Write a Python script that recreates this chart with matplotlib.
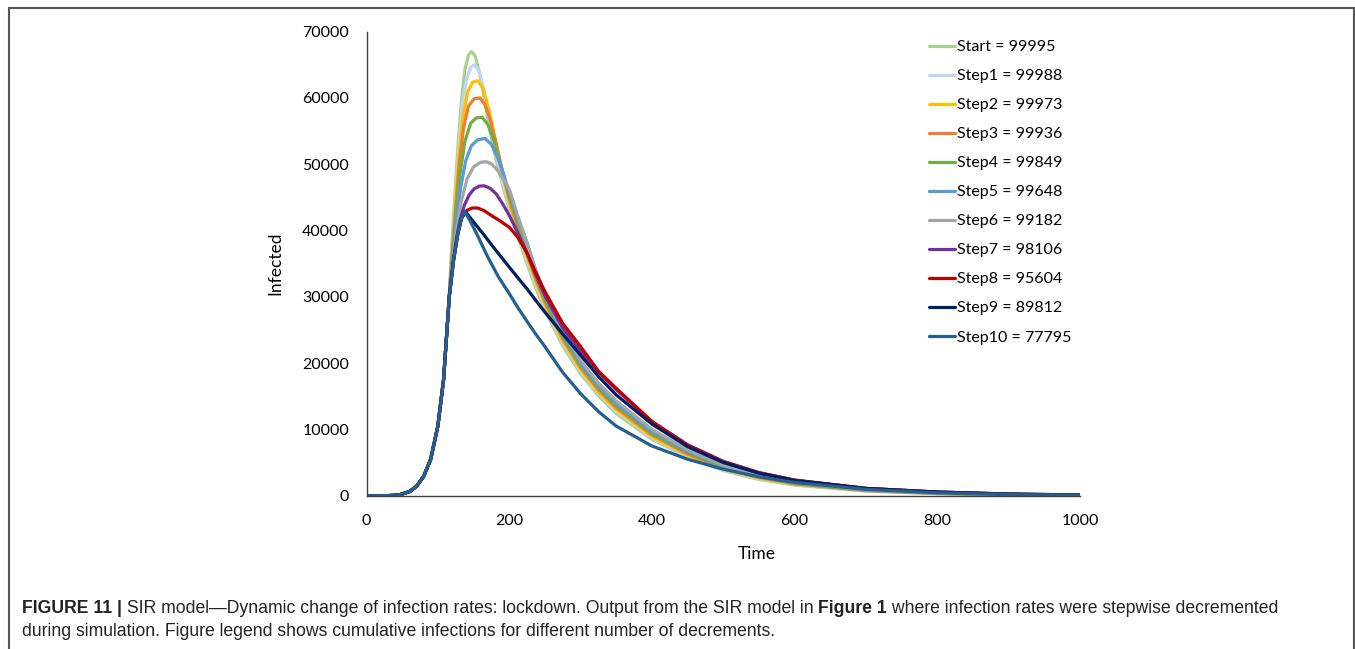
import matplotlib
matplotlib.use('Agg')
import matplotlib.pyplot as plt
from matplotlib.patches import Rectangle

# ---- data ---------------------------------------------------------------
labels = ['Start = 99995', 'Step1 = 99988', 'Step2 = 99973', 'Step3 = 99936',
          'Step4 = 99849', 'Step5 = 99648', 'Step6 = 99182', 'Step7 = 98106',
          'Step8 = 95604', 'Step9 = 89812', 'Step10 = 77795']
colors = ['#a9d18e', '#bdd7ee', '#ffc000', '#ed7d31', '#70ad47', '#5b9bd5',
          '#a5a5a5', '#7030a0', '#c00000', '#002060', '#255e91']

# shared early growth (all runs identical before the first decrement)
rise_t = [0, 30, 45, 60, 70, 80, 90, 100, 108, 116]
rise_v = [0, 10, 100, 600, 1400, 2900, 5500, 10500, 17500, 30000]

# peak section per run (116 < t < 200)
peak_t = [
    [119, 123, 128, 133, 138, 143, 147, 152, 158, 165, 173, 182, 191],
    [119, 124, 129, 134, 140, 146, 151, 157, 164, 172, 181, 190],
    [119, 124, 129, 135, 142, 149, 156, 163, 171, 180, 190],
    [120, 125, 130, 136, 143, 151, 159, 166, 174, 183, 192],
    [120, 125, 131, 138, 146, 154, 162, 170, 178, 187],
    [120, 126, 132, 139, 147, 156, 166, 175, 184, 192],
    [120, 126, 133, 141, 150, 160, 168, 176, 185, 193],
    [121, 126, 131, 137, 144, 151, 158, 165, 173, 182, 191],
    [122, 128, 133, 140, 148, 156, 165, 176, 188],
    [122, 128, 133, 139, 150, 165, 180],
    [122, 128, 133, 138, 145, 155, 170, 185],
]
peak_v = [
    [36500, 44000, 52500, 59500, 64300, 66500, 67000, 66400, 64000, 60000, 55000, 50500, 46800],
    [36000, 44000, 52000, 58500, 62800, 64600, 65000, 64200, 61500, 57000, 52000, 47500],
    [35500, 43000, 50500, 57000, 61000, 62400, 62600, 61500, 58500, 54000, 48800],
    [36500, 43500, 50000, 55500, 58800, 59900, 60000, 59000, 56500, 52500, 48300],
    [36000, 42000, 48500, 53500, 56200, 57000, 57100, 56000, 53800, 50300],
    [35000, 41500, 46500, 50500, 52800, 53700, 53900, 53000, 51000, 48500],
    [34500, 40000, 44500, 47800, 49600, 50300, 50400, 50000, 48900, 47500],
    [35000, 38700, 41500, 43800, 45400, 46300, 46700, 46750, 46400, 45500, 44000],
    [35500, 39500, 41800, 43000, 43400, 43400, 43000, 42200, 41400],
    [35500, 39500, 41800, 42800, 41300, 39300, 37200],
    [35500, 39500, 41800, 42850, 41500, 39400, 36000, 33000],
]

# decline per run
tail_t = [200, 212, 225, 237, 250, 275, 300, 325, 350, 400, 450, 500, 550, 600, 700, 800, 900, 1000]
tail_v = [
    [43200, 39100, 35000, 31400, 28000, 22600, 18400, 15100, 12400, 8500, 5800, 3800, 2450, 1600, 700, 310, 130, 55],
    [43600, 39500, 35500, 31900, 28500, 23000, 18700, 15400, 12700, 8700, 5900, 3900, 2550, 1650, 720, 320, 140, 60],
    [44200, 40000, 36000, 32300, 28900, 23300, 19000, 15600, 13000, 8900, 6100, 4000, 2650, 1700, 750, 340, 150, 65],
    [44800, 40600, 36500, 32800, 29300, 23700, 19400, 16000, 13300, 9200, 6300, 4150, 2750, 1800, 790, 360, 160, 70],
    [45300, 41100, 37000, 33200, 29700, 24000, 19700, 16300, 13600, 9400, 6500, 4300, 2850, 1850, 820, 370, 170, 75],
    [45800, 42000, 38200, 34100, 30300, 24400, 20000, 16600, 13900, 9700, 6700, 4500, 3000, 1950, 870, 400, 180, 80],
    [46300, 42200, 38000, 34000, 30500, 24800, 20400, 17000, 14300, 10000, 6900, 4600, 3100, 2000, 900, 420, 190, 80],
    [42300, 39700, 36600, 33300, 30200, 25300, 21800, 18700, 16000, 11200, 7700, 5200, 3500, 2350, 1100, 550, 250, 110],
    [40500, 39000, 36600, 33700, 30800, 26000, 22500, 18800, 16200, 11200, 7600, 5100, 3450, 2350, 1100, 550, 250, 110],
    [34500, 32900, 31200, 29500, 27700, 24400, 21200, 18000, 15200, 10800, 7400, 5000, 3400, 2300, 1100, 550, 250, 110],
    [30500, 28400, 26300, 24400, 22500, 18600, 15400, 12700, 10500, 7500, 5500, 4000, 2850, 2000, 950, 430, 190, 90],
]

# ---- figure --------------------------------------------------------------
plt.rcParams['font.family'] = ['Lato', 'DejaVu Sans']

W, H = 1355, 649
fig = plt.figure(figsize=(W / 100, H / 100), dpi=100)
fig.patch.set_facecolor('white')

# thin frame around the whole panel
fig.patches.append(Rectangle((9 / W, -0.02), 1345 / W, 1.02 - 8 / H,
                             transform=fig.transFigure, fill=False,
                             edgecolor='#555555', lw=1.5))

ax = fig.add_axes([366.5 / W, 1 - 495.7 / H, 713.5 / W, 464 / H])

for i in range(len(labels)):
    t = rise_t + peak_t[i] + tail_t
    v = rise_v + peak_v[i] + tail_v[i]
    ax.plot(t, v, color=colors[i], lw=2.3, label=labels[i],
            solid_capstyle='round', solid_joinstyle='round')

ax.set_xlim(0, 1000)
ax.set_ylim(0, 70000)
ax.set_xticks(range(0, 1001, 200))
ax.set_yticks(range(0, 70001, 10000))
ax.tick_params(axis='both', length=0, labelsize=11.5, colors='black')
ax.tick_params(axis='y', pad=12.5)
ax.tick_params(axis='x', pad=13.5)
for s in ['top', 'right']:
    ax.spines[s].set_visible(False)
for s in ['left', 'bottom']:
    ax.spines[s].set_color('#404040')
    ax.spines[s].set_linewidth(1.0)

ax.set_xlabel('Time', fontsize=12.5)
ax.xaxis.set_label_coords((757 - 366.5) / 713.5, -(546 - 495.7) / 464)
ax.set_ylabel('Infected', fontsize=12.5)
ax.yaxis.set_label_coords(-(366.5 - 283) / 713.5, 0.5)

ax.legend(loc='upper left', bbox_to_anchor=(929 / W, 1 - 40 / H),
          bbox_transform=fig.transFigure, frameon=False, fontsize=11.5,
          handlelength=1.65, handletextpad=0.12, labelspacing=0.93,
          borderpad=0, borderaxespad=0)

# ---- caption -------------------------------------------------------------
cap_font = ['Liberation Sans Narrow', 'Liberation Sans', 'DejaVu Sans']
line1 = [('FIGURE 11 |', 'bold'),
         (' SIR model\u2014Dynamic change of infection rates: lockdown. Output from the SIR model in ', 'normal'),
         ('Figure 1', 'bold'),
         (' where infection rates were stepwise decremented', 'normal')]
line2 = [('during simulation. Figure legend shows cumulative infections for different number of decrements.', 'normal')]

renderer = fig.canvas.get_renderer()


def width_of(pieces, size):
    total = 0
    for txt, wt in pieces:
        t = fig.text(0, 0, txt, fontsize=size, fontweight=wt, family=cap_font)
        total += t.get_window_extent(renderer).width
        t.remove()
    return total


cap_size = 10 * 1259 / width_of(line1, 10)


def put_line(pieces, x0, y_px):
    x = x0
    for txt, wt in pieces:
        t = fig.text(x / W, 1 - y_px / H, txt, fontsize=cap_size, fontweight=wt,
                     family=cap_font, va='baseline', ha='left', color='#222222')
        x += t.get_window_extent(renderer).width


put_line(line1, 22, 613)
put_line(line2, 22, 636)

fig.savefig('out.png', dpi=100)
